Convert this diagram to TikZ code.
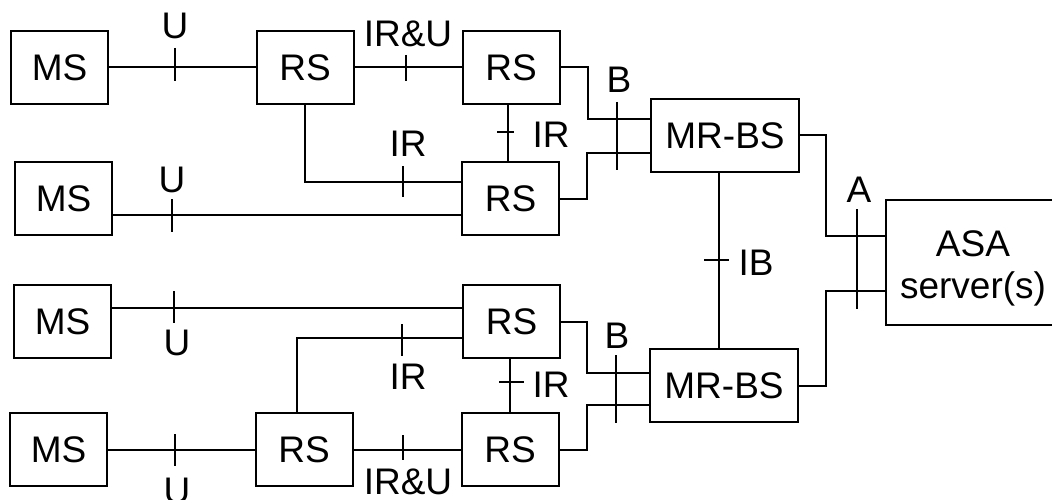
\documentclass[tikz,border=0pt]{standalone}
\usepackage{fontspec}
\setmainfont{Liberation Sans}
\usetikzlibrary{calc}
\tikzset{
  box/.style={draw, line width=2pt, minimum width=97pt, minimum height=73pt, inner sep=0pt, font=\fontsize{37}{42}\selectfont},
  wide/.style={minimum width=148pt},
  lbl/.style={anchor=base, inner sep=0pt, font=\fontsize{37}{42}\selectfont},
  conn/.style={line width=2pt},
  tick/.style={line width=2pt}
}
\begin{document}
\begin{tikzpicture}[x=1pt,y=-1pt]
\useasboundingbox (0,0) rectangle (1052,500);
% nodes
\node[box] (ms1) at (59.5,67.5) {MS};
\node[box] (rs1) at (305,67.5) {RS};
\node[box] (rs2) at (511,67.5) {RS};
\node[box] (ms2) at (63.5,198.5) {MS};
\node[box] (rs3) at (510.5,198.5) {RS};
\node[box,wide] (mrbs1) at (725,135.5) {MR-BS};
\node[box, minimum width=170pt, minimum height=125pt] (asa) at (971,262.5) {};
\node[inner sep=0pt, align=center, font=\fontsize{37}{42}\selectfont] (asatext) at (973,268) {ASA\\server(s)};
\node[box] (ms3) at (62.5,321.5) {MS};
\node[box] (rs4) at (511.5,321.5) {RS};
\node[box] (ms4) at (58.5,449.5) {MS};
\node[box] (rs6) at (304,449.5) {RS};
\node[box] (rs5) at (510,449.5) {RS};
\node[box,wide] (mrbs2) at (724,385.5) {MR-BS};
% helper coordinates
\coordinate (rs3a) at ([yshift=16.5pt]rs3.west);
\coordinate (rs3b) at ([yshift=-16.5pt]rs3.west);
\coordinate (rs4a) at ([yshift=13.5pt]rs4.west);
\coordinate (rs4b) at ([yshift=-16.5pt]rs4.west);
\coordinate (asaA) at ([yshift=26.5pt]asa.west);
\coordinate (asaB) at ([yshift=-28.5pt]asa.west);
% connectors top group
\draw[conn] (ms1.east) -- (rs1.west);
\draw[conn] (rs1.east) -- (rs2.west);
\draw[conn] (rs1.south) |- (rs3a);
\draw[conn] (ms2.east |- rs3b) -- (rs3b);
\draw[conn] ([xshift=-2.5pt]rs3.north) -- ([xshift=-2.5pt]rs3.north |- rs2.south);
\draw[conn] (rs2.east) -- ++(27,0) |- ([yshift=16.5pt]mrbs1.west);
\draw[conn] (rs3.east) -- ++(27,0) |- ([yshift=-17.5pt]mrbs1.west);
% right side
\draw[conn] (mrbs1.east) -- ++(26,0) |- (asaA);
\draw[conn] (mrbs2.east) -- ++(27,0) |- (asaB);
\draw[conn] ([xshift=-6pt]mrbs1.south) -- ([xshift=-5pt]mrbs2.north);
% connectors bottom group
\draw[conn] (ms3.east |- rs4a) -- (rs4a);
\draw[conn] ([xshift=-7pt]rs6.north) |- (rs4b);
\draw[conn] ([xshift=-1.5pt]rs4.south) -- ([xshift=-1.5pt]rs4.south |- rs5.north);
\draw[conn] (ms4.east) -- (rs6.west);
\draw[conn] (rs6.east) -- (rs5.west);
\draw[conn] (rs4.east) -- ++(26,0) |- ([yshift=12.5pt]mrbs2.west);
\draw[conn] (rs5.east) -- ++(27,0) |- ([yshift=-19.5pt]mrbs2.west);
% ticks
\draw[tick] (175,48) -- (175,81);
\draw[tick] (406,55) -- (406,81);
\draw[tick] (403,166) -- (403,197);
\draw[tick] (172,199) -- (172,232);
\draw[tick] (497,132) -- (514,132);
\draw[tick] (617,102) -- (617,170);
\draw[tick] (857,209) -- (857,309);
\draw[tick] (704,260) -- (729,260);
\draw[tick] (174,291) -- (174,323);
\draw[tick] (402,324) -- (402,356);
\draw[tick] (499,382) -- (524,382);
\draw[tick] (175,434) -- (175,466);
\draw[tick] (403,435) -- (403,460);
\draw[tick] (616,355) -- (616,423);
% labels
\node[lbl] (l1) at (175,39) {U};
\node[lbl] (l2) at (408,47) {IR\&U};
\node[lbl] (l3) at (408,157) {IR};
\node[lbl] (l4) at (172,192) {U};
\node[lbl] (l5) at (551,147) {IR};
\node[lbl] (l6) at (619,93) {B};
\node[lbl] (l7) at (859,202) {A};
\node[lbl] (l8) at (756,275) {IB};
\node[lbl] (l9) at (177,355) {U};
\node[lbl] (l10) at (408,389) {IR};
\node[lbl] (l11) at (551,397) {IR};
\node[lbl] (l12) at (617,348) {B};
\node[lbl] (l13) at (177,503) {U};
\node[lbl] (l14) at (408,494) {IR\&U};
\end{tikzpicture}
\end{document}
